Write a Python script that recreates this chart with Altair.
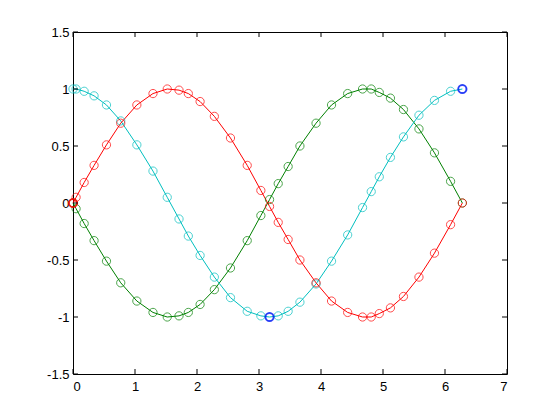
import altair as alt
import pandas as pd

x_vals = [0, 0.05, 0.18, 0.34, 0.54, 0.77, 1.03, 1.29, 1.52, 1.71, 1.86, 2.05, 2.28, 2.54, 2.81, 3.03,
          3.17, 3.31, 3.47, 3.66, 3.92, 4.17, 4.43, 4.67, 4.81, 4.94, 5.12, 5.33, 5.58, 5.83, 6.09, 6.28]
sin_vals = [0, 0.05, 0.18, 0.33, 0.51, 0.70, 0.86, 0.96, 1.00, 0.99, 0.96, 0.89, 0.76, 0.57, 0.33, 0.11,
            -0.03, -0.17, -0.32, -0.50, -0.70, -0.86, -0.96, -1.00, -1.00, -0.97, -0.92, -0.82, -0.65, -0.44, -0.19, 0]
negsin_vals = [0, -0.05, -0.18, -0.33, -0.51, -0.70, -0.86, -0.96, -1.00, -0.99, -0.96, -0.89, -0.76, -0.57, -0.33, -0.11,
               0.03, 0.17, 0.32, 0.50, 0.70, 0.86, 0.96, 1.00, 1.00, 0.97, 0.92, 0.82, 0.65, 0.44, 0.19, 0]
cos_vals = [1.00, 1.00, 0.98, 0.94, 0.86, 0.72, 0.51, 0.28, 0.05, -0.14, -0.29, -0.46, -0.65, -0.83, -0.95, -0.99,
            -1.00, -0.99, -0.95, -0.87, -0.71, -0.51, -0.28, -0.04, 0.10, 0.23, 0.40, 0.58, 0.77, 0.90, 0.98, 1.00]

# drawing order: green first, then cyan, red on top
series_names = ["negsin", "cos", "sin"]
series_colors = ["#008000", "#00bfbf", "#ff0000"]
series_values = [negsin_vals, cos_vals, sin_vals]

hl_x = [0, 3.17, 6.28]
hl_y = [0, -1, 1]
hl_color = ["#ff0000", "#0000ff", "#0000ff"]

x_ticks = [0, 1, 2, 3, 4, 5, 6, 7]
y_ticks = [-1.5, -1, -0.5, 0, 0.5, 1, 1.5]

W, H = 434, 342

rows = []
for k, (name, vals) in enumerate(zip(series_names, series_values)):
    for i, (xv, yv) in enumerate(zip(x_vals, vals)):
        rows.append({"x": xv, "y": yv, "series": name, "order": i, "layer": k})
df = pd.DataFrame(rows)
hl = pd.DataFrame({"x": hl_x, "y": hl_y, "c": hl_color})
xt = pd.DataFrame({"t": x_ticks})
yt = pd.DataFrame({"t": y_ticks})

xscale = alt.Scale(domain=[0, 7], nice=False, zero=False)
yscale = alt.Scale(domain=[-1.5, 1.5], nice=False, zero=False)
cscale = alt.Scale(domain=series_names, range=series_colors)

xaxis = alt.Axis(values=x_ticks, ticks=False, domain=False, grid=False, labelExpr="toString(datum.value)",
                 labelFont="Liberation Sans", labelFontSize=13, labelColor="black", labelPadding=6, title=None)
yaxis = alt.Axis(values=y_ticks, ticks=False, domain=False, grid=False, labelExpr="toString(datum.value)",
                 labelFont="Liberation Sans", labelFontSize=13, labelColor="black", labelPadding=4, title=None)

base = alt.Chart(df)
lines = base.mark_line(strokeWidth=1).encode(
    x=alt.X("x:Q", scale=xscale, axis=xaxis),
    y=alt.Y("y:Q", scale=yscale, axis=yaxis),
    color=alt.Color("series:N", scale=cscale, legend=None),
    detail="series:N",
    order="order:Q",
)
points = base.mark_point(shape="circle", filled=False, size=68, strokeWidth=1).encode(
    x=alt.X("x:Q", scale=xscale),
    y=alt.Y("y:Q", scale=yscale),
    color=alt.Color("series:N", scale=cscale, legend=None),
    order=alt.Order("layer:Q"),
)
hl_pts = alt.Chart(hl).mark_point(shape="circle", filled=False, size=68, strokeWidth=2).encode(
    x=alt.X("x:Q", scale=xscale),
    y=alt.Y("y:Q", scale=yscale),
    stroke=alt.Stroke("c:N", scale=None),
)

tick_bottom = alt.Chart(xt).mark_rule(color="black", strokeWidth=1).encode(
    x=alt.X("t:Q", scale=xscale), y=alt.value(H), y2=alt.value(H - 5))
tick_top = alt.Chart(xt).mark_rule(color="black", strokeWidth=1).encode(
    x=alt.X("t:Q", scale=xscale), y=alt.value(0), y2=alt.value(5))
tick_left = alt.Chart(yt).mark_rule(color="black", strokeWidth=1).encode(
    y=alt.Y("t:Q", scale=yscale), x=alt.value(0), x2=alt.value(5))
tick_right = alt.Chart(yt).mark_rule(color="black", strokeWidth=1).encode(
    y=alt.Y("t:Q", scale=yscale), x=alt.value(W), x2=alt.value(W - 5))

chart = alt.layer(lines, points, hl_pts, tick_bottom, tick_top, tick_left, tick_right).resolve_scale(
    color="independent"
).properties(
    width=W, height=H,
    autosize="none",
    padding={"left": 65, "top": 24, "right": 20, "bottom": 30},
    background="white",
).configure_view(stroke="black", strokeWidth=1)

chart.save("out.html", embed_options={"renderer": "svg", "actions": False})
